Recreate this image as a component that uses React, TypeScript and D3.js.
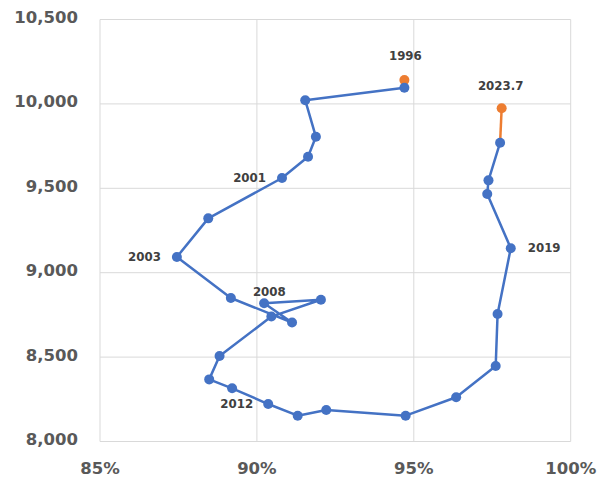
import React from "react";
import * as d3 from "d3";

const years = ["1996","1997","1998","1999","2000","2001","2002","2003","2004","2005","2006","2007","2008","2009","2010","2011","2012","2013","2014","2015","2016","2017","2018","2019","2020","2021","2022","2023.7"];
const xValues = [94.70, 94.70, 91.54, 91.88, 91.63, 90.80, 88.45, 87.45, 89.17, 91.12, 90.23, 92.04, 90.46, 88.81, 88.48, 89.21, 90.36, 91.30, 92.21, 94.74, 96.35, 97.61, 97.67, 98.09, 97.34, 97.38, 97.75, 97.80];
const yValues = [10141, 10096, 10022, 9805, 9687, 9561, 9322, 9093, 8850, 8705, 8819, 8840, 8740, 8506, 8368, 8315, 8222, 8153, 8187, 8153, 8262, 8447, 8755, 9145, 9466, 9547, 9770, 9974];
const xTicks = [85, 90, 95, 100];
const yTicks = [8000, 8500, 9000, 9500, 10000, 10500];
const labeledYears = ["1996", "2001", "2003", "2008", "2012", "2019", "2023.7"];

// label placement (style, not data)
const labelPlacement: Record<string, { dx: number; dy: number; anchor: string }> = {
  "1996": { dx: 1, dy: -24, anchor: "middle" },
  "2001": { dx: -16, dy: 0, anchor: "end" },
  "2003": { dx: -16, dy: 0, anchor: "end" },
  "2008": { dx: -2, dy: -24.5, anchor: "middle" },
  "2012": { dx: -15, dy: 0, anchor: "end" },
  "2019": { dx: 17, dy: 0, anchor: "start" },
  "2023.7": { dx: -1, dy: -22, anchor: "middle" },
};

const BLUE = "#4472C4";
const ORANGE = "#ED7D31";

export default function App() {
  const x = d3.scaleLinear().domain([85, 100]).range([100, 570.7]);
  const y = d3.scaleLinear().domain([8000, 10500]).range([441.5, 19.5]);
  const pts = years.map((yr, i) => ({ yr, x: xValues[i], y: yValues[i] }));
  const n = pts.length;
  const blue = pts.slice(1, n - 1);
  const orangeSegs = [[pts[0], pts[1]], [pts[n - 2], pts[n - 1]]];
  const orangeMarks = [pts[0], pts[n - 1]];
  const line = d3.line<any>().x((d) => x(d.x)).y((d) => y(d.y));
  const font = "'DejaVu Sans', Verdana, sans-serif";

  return (
    <svg width={606} height={480} style={{ position: "absolute", left: 0, top: 0, background: "#fff" }}>
      <g>
        {yTicks.map((t) => (
          <line key={"gy" + t} x1={x(85)} x2={x(100)} y1={y(t)} y2={y(t)} stroke="#d9d9d9" strokeWidth={1} />
        ))}
        {xTicks.map((t) => (
          <line key={"gx" + t} x1={x(t)} x2={x(t)} y1={y(8000)} y2={y(10500)} stroke="#d9d9d9" strokeWidth={1} />
        ))}
      </g>
      <g fontFamily={font} fontWeight="bold" fontSize={16.5} fill="#595959">
        {yTicks.map((t) => (
          <text key={"ly" + t} x={78} y={y(t) - 2} textAnchor="end" dominantBaseline="central">
            {d3.format(",")(t)}
          </text>
        ))}
        {xTicks.map((t) => (
          <text key={"lx" + t} x={x(t)} y={468} textAnchor="middle" dominantBaseline="central">
            {t + "%"}
          </text>
        ))}
      </g>
      <g>
        {orangeSegs.map((s, i) => (
          <path key={"os" + i} d={line(s) || ""} fill="none" stroke={ORANGE} strokeWidth={2.5} />
        ))}
        {orangeMarks.map((p, i) => (
          <circle key={"om" + i} cx={x(p.x)} cy={y(p.y)} r={5} fill={ORANGE} />
        ))}
        <path d={line(blue) || ""} fill="none" stroke={BLUE} strokeWidth={2.5} strokeLinejoin="round" />
        {blue.map((p, i) => (
          <circle key={"bm" + i} cx={x(p.x)} cy={y(p.y)} r={5} fill={BLUE} />
        ))}
      </g>
      <g fontFamily={font} fontWeight="bold" fontSize={11.8} fill="#404040">
        {pts
          .filter((p) => labeledYears.includes(p.yr))
          .map((p) => {
            const pl = labelPlacement[p.yr];
            return (
              <text
                key={"dl" + p.yr}
                x={x(p.x) + pl.dx}
                y={y(p.y) + pl.dy}
                textAnchor={pl.anchor as any}
                dominantBaseline="central"
              >
                {p.yr}
              </text>
            );
          })}
      </g>
    </svg>
  );
}
